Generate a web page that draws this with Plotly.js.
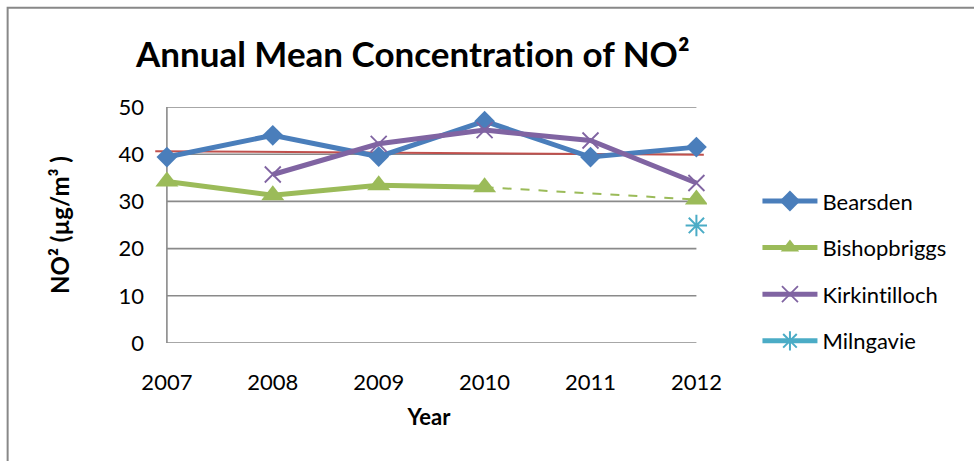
<!DOCTYPE html>
<html>
<head>
<meta charset="utf-8">
<script src="https://cdn.plot.ly/plotly-3.0.1.min.js"></script>
<style>html,body{margin:0;padding:0;background:#fff;}#chart{width:974px;height:461px;}
svg text{font-variant-ligatures:none;font-feature-settings:"liga" 0;}</style>
</head>
<body>
<div id="chart"></div>
<script>
// ---- data ----
const years = [2007, 2008, 2009, 2010, 2011, 2012];
const yearLabels = ['2007', '2008', '2009', '2010', '2011', '2012'];
const bearsden = [39.4, 44.0, 39.5, 47.0, 39.4, 41.5];
const bishopbriggsYears = [2007, 2008, 2009, 2010, 2011, 2012];
const bishopbriggs = [34.2, 31.3, 33.4, 33.0, null, 30.4];
const bishopbriggsGapYears = [2010, 2012];
const bishopbriggsGap = [33.0, 30.4];
const kirkintilloch = [null, 35.7, 42.2, 45.1, 42.9, 33.9];
const milngavieYears = [2012];
const milngavie = [24.9];
const trendX = [2006.89, 2012.07];
const trendY = [40.65, 39.9];
const yTicks = [0, 10, 20, 30, 40, 50];

// ---- layout geometry ----
const W = 974, H = 461;
const L = 151, R = 266.5, T = 107, B = 118.3;
const PW = W - L - R, PH = H - T - B;
const px2x = p => (p - L) / PW;
const px2y = p => (H - B - p) / PH;

const FONT = 'Lato, "Open Sans", sans-serif';
const gridColor = '#8a8a8a';

const shapes = [];
yTicks.forEach(v => {
  shapes.push({type: 'line', xref: 'x', yref: 'y', x0: years[0], x1: years[years.length - 1], y0: v, y1: v,
    line: {color: gridColor, width: 1.6}, layer: 'below'});
});
shapes.push({type: 'line', xref: 'x', yref: 'y', x0: years[0], x1: years[0], y0: yTicks[0], y1: yTicks[yTicks.length - 1],
  line: {color: gridColor, width: 1.6}, layer: 'below'});
// outer chart border
shapes.push({type: 'rect', xref: 'paper', yref: 'paper', x0: px2x(7.5), x1: px2x(1000), y0: px2y(8), y1: px2y(500),
  line: {color: '#888888', width: 2}, fillcolor: 'rgba(0,0,0,0)', layer: 'below'});

const traces = [
  {x: trendX, y: trendY, mode: 'lines', line: {color: '#C0504D', width: 2}, showlegend: false, hoverinfo: 'skip'},
  {x: years, y: bearsden, name: 'Bearsden', legendgroup: 'a', mode: 'lines+markers',
    line: {color: '#4A7EBB', width: 5}, marker: {symbol: 'diamond', size: 16, color: '#4A7EBB'}},
  {x: bishopbriggsGapYears, y: bishopbriggsGap, legendgroup: 'b', showlegend: false, mode: 'lines',
    line: {color: '#9BBB59', width: 2, dash: 'dash'}},
  {x: bishopbriggsYears, y: bishopbriggs, name: 'Bishopbriggs', legendgroup: 'b',
    mode: 'lines+markers', connectgaps: false,
    line: {color: '#9BBB59', width: 5}, marker: {symbol: 'triangle-up', size: 20, color: '#9BBB59'}},
  {x: years, y: kirkintilloch, name: 'Kirkintilloch', legendgroup: 'c', mode: 'lines+markers',
    line: {color: '#8064A2', width: 5}, marker: {symbol: 'x-thin-open', size: 16, color: '#8064A2', line: {color: '#8064A2', width: 1.8}}},
  {x: milngavieYears, y: milngavie, name: 'Milngavie', legendgroup: 'd', mode: 'lines+markers',
    line: {color: '#4BACC6', width: 5}, marker: {symbol: 'asterisk-open', size: 18, color: '#4BACC6', line: {color: '#4BACC6', width: 2}}}
];

const layout = {
  width: W, height: H,
  margin: {l: L, r: R, t: T, b: B, pad: 0},
  paper_bgcolor: '#ffffff', plot_bgcolor: 'rgba(0,0,0,0)',
  font: {family: FONT, size: 22, color: '#000000'},
  title: {text: '<b>Annual Mean Concentration of NO²</b>', font: {family: FONT, size: 35, color: '#000'},
    x: px2x(413), xref: 'paper', xanchor: 'center', y: 1 - 55 / H, yref: 'container', yanchor: 'middle'},
  xaxis: {range: [2006.85, 2012.1], tickvals: years, ticktext: yearLabels, showgrid: false, zeroline: false,
    showline: false, ticks: '', ticklabelstandoff: 24, fixedrange: true,
    title: {text: '<b>Year</b>', font: {size: 22}, standoff: 15}},
  yaxis: {range: [0, 50], tickvals: yTicks, showgrid: false, zeroline: false, showline: false, ticks: '',
    ticklabelstandoff: 6, fixedrange: true,
    title: {text: '<b>NO² (µg/m³ )</b>', font: {size: 24}, standoff: 42}},
  legend: {x: px2x(758), xanchor: 'left', y: px2y(271), yanchor: 'middle', tracegroupgap: 15,
    font: {size: 22}, itemwidth: 55, bgcolor: 'rgba(0,0,0,0)'},
  shapes: shapes,
  showlegend: true
};

Plotly.newPlot('chart', traces, layout, {staticPlot: true, displayModeBar: false});
</script>
</body>
</html>
